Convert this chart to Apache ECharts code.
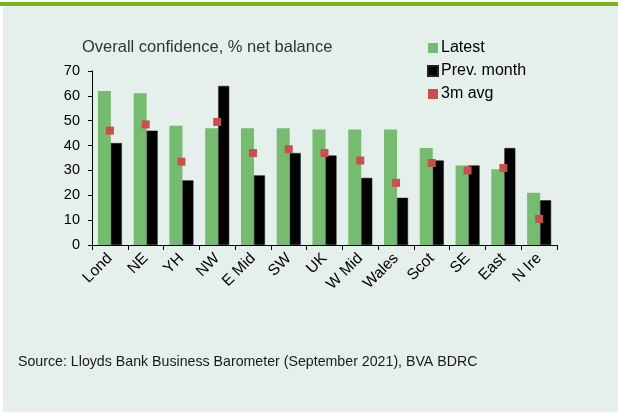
<!DOCTYPE html>
<html style="height:100%;width:100%">
<head>
	<meta charset="UTF-8">
	<title>Overall confidence</title>
	<style type="text/css">
		body{ margin:0px; background-color:#FFFFFF; }
		#container{ width:618px; height:416px; }
	</style>
	<script src="https://cdn.jsdelivr.net/npm/echarts@6/dist/echarts.min.js"></script>
</head>
<body>
<div id="container"></div>

<script type="text/javascript">

var categories = ['Lond', 'NE', 'YH', 'NW', 'E Mid', 'SW', 'UK', 'W Mid', 'Wales', 'Scot', 'SE', 'East', 'N Ire'];
var latest = [62, 61, 48, 47, 47, 47, 46.5, 46.5, 46.5, 39, 32, 30.5, 21];
var prevMonth = [41, 46, 26, 64, 28, 37, 36, 27, 19, 34, 32, 39, 18];
var avg3m = [46, 48.5, 33.5, 49.5, 37, 38.5, 37, 34, 25, 33, 30, 31, 10.5];
var yTicks = [0, 10, 20, 30, 40, 50, 60, 70];

var dom = document.getElementById("container");
var myChart = echarts.init(dom);
var option = null;
option = {
	backgroundColor: '#FFFFFF',
	animation: false,
	textStyle: {
		fontFamily: 'Liberation Sans, Arial, sans-serif'
	},
	graphic: [
		// panel background
		{ type: 'rect', left: 3, top: 6, shape: { width: 615, height: 406 }, style: { fill: '#E5EFEB' }, z: -10 },
		// green rule at the top
		{ type: 'rect', left: 0, top: 2, shape: { width: 618, height: 4 }, style: { fill: '#78B41E' }, z: -9 },
		{ type: 'text', left: 82, top: 39, style: { text: 'Overall confidence, % net balance', fill: '#333333', font: '16.5px Liberation Sans, Arial, sans-serif' } },
		{ type: 'text', left: 18, top: 355, style: { text: 'Source: Lloyds Bank Business Barometer (September 2021), BVA BDRC', fill: '#1A1A1A', font: '14.2px Liberation Sans, Arial, sans-serif' } }
	],
	legend: {
		orient: 'vertical',
		left: 422,
		top: 35,
		itemWidth: 10,
		itemHeight: 10,
		itemGap: 7,
		icon: 'rect',
		textStyle: { color: '#000000', fontSize: 16, lineHeight: 16, padding: [0, 0, 0, -2] },
		data: ['Latest', 'Prev. month', '3m avg']
	},
	grid: {
		left: 92,
		right: 61,
		top: 71,
		bottom: 171,
		containLabel: false
	},
	xAxis: {
		type: 'category',
		data: categories,
		axisLine: { lineStyle: { color: '#000000', width: 1 } },
		axisTick: { show: true, length: 5, lineStyle: { color: '#000000' } },
		axisLabel: { rotate: 45, color: '#000000', fontSize: 15.5, margin: 11, interval: 0 }
	},
	yAxis: {
		type: 'value',
		min: 0,
		max: 70,
		interval: 10,
		splitLine: { show: false },
		axisLine: { show: true, lineStyle: { color: '#000000', width: 1 } },
		axisTick: { show: true, length: 4, lineStyle: { color: '#000000' } },
		axisLabel: {
			color: '#000000', fontSize: 14.5, margin: 12,
			formatter: function (v) { return yTicks.indexOf(v) >= 0 ? String(v) : ''; }
		}
	},
	series: [
		{
			name: 'Latest',
			type: 'bar',
			data: latest,
			barWidth: 13,
			barGap: '0%',
			itemStyle: { color: '#75BB70' }
		},
		{
			name: 'Prev. month',
			type: 'bar',
			data: prevMonth,
			barWidth: 11,
			barGap: '0%',
			itemStyle: { color: '#000000', borderColor: '#222222', borderWidth: 0.5 }
		},
		{
			name: '3m avg',
			type: 'scatter',
			data: avg3m,
			symbol: 'rect',
			symbolSize: 8,
			itemStyle: { color: '#C8504B', opacity: 1 },
			z: 5
		}
	]
};

if (option && typeof option === "object") {
	myChart.setOption(option, true);
}

</script>
</body>
</html>
